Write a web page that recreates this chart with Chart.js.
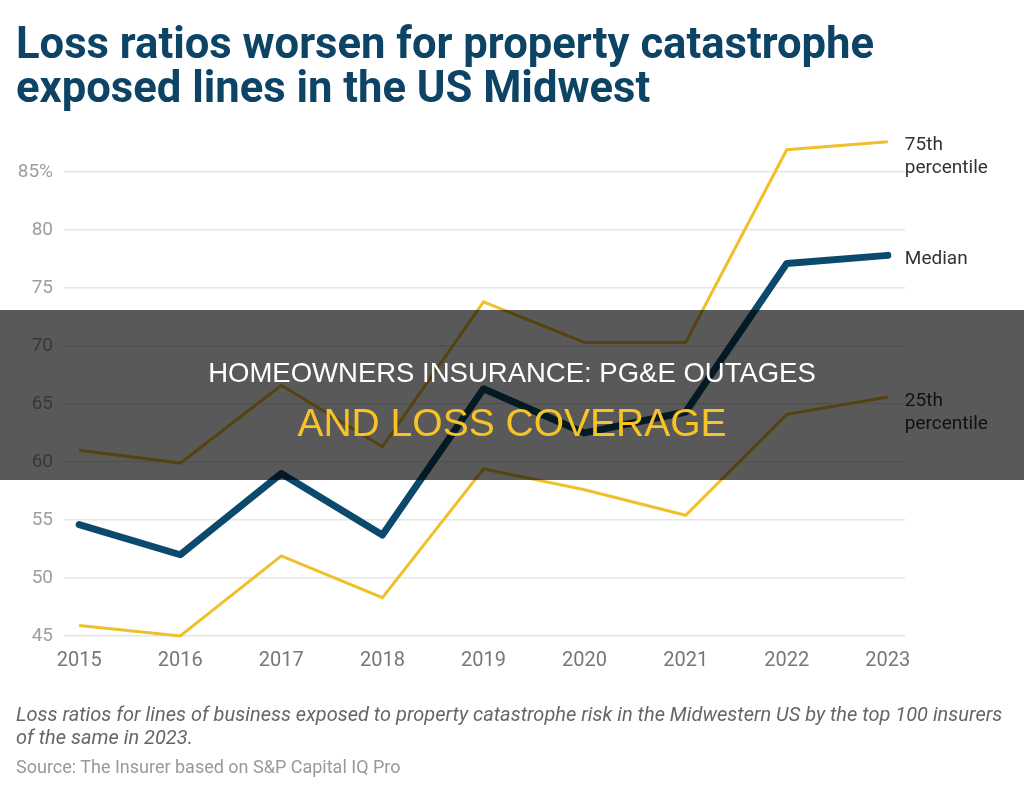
<!DOCTYPE html>
<html>
<head>
<meta charset="utf-8">
<script src="https://cdn.jsdelivr.net/npm/chart.js@4"></script>
<style>
  html, body { margin: 0; padding: 0; background: #fff; }
  body { width: 1024px; height: 795px; position: relative; overflow: hidden; }
  #wrap { position: absolute; left: 0; top: 0; width: 1024px; height: 795px; }
  .title {
    position: absolute; left: 16px; top: 22px; margin: 0;
    font-family: Roboto, sans-serif; font-weight: 700; font-size: 43.6px;
    line-height: 44px; color: #0d4466; white-space: nowrap;
  }
  .caption {
    position: absolute; left: 16px; top: 703px;
    font-family: Roboto, sans-serif; font-style: italic; font-size: 20px;
    line-height: 23px; color: #666; white-space: nowrap;
  }
  .source {
    position: absolute; left: 16px; top: 757px;
    font-family: Roboto, sans-serif; font-size: 18px; line-height: 20px;
    color: #999; white-space: nowrap;
  }
  .band {
    position: absolute; left: 0; top: 310px; width: 1024px; height: 170px;
    background: rgba(0, 0, 0, 0.65); z-index: 5;
  }
  .band div {
    position: absolute; left: 0; width: 1024px; text-align: center;
    font-family: "Liberation Sans", Arial, sans-serif; white-space: nowrap;
  }
  .band .l1 { top: 47px; font-size: 27.5px; line-height: 32px; color: #fff; }
  .band .l2 { top: 90px; font-size: 39px; line-height: 46px; color: #f7c325; }
</style>
</head>
<body>
<div id="wrap"><canvas id="lossChart"></canvas></div>
<h1 class="title">Loss ratios worsen for property catastrophe<br>exposed lines in the US Midwest</h1>
<div class="caption">Loss ratios for lines of business exposed to property catastrophe risk in the Midwestern US by the top 100 insurers<br>of the same in 2023.</div>
<div class="source">Source: The Insurer based on S&amp;P Capital IQ Pro</div>
<div class="band">
  <div class="l1">HOMEOWNERS INSURANCE: PG&amp;E OUTAGES</div>
  <div class="l2">AND LOSS COVERAGE</div>
</div>
<script>
const years = [2015, 2016, 2017, 2018, 2019, 2020, 2021, 2022, 2023];
const median = [54.6, 52.0, 59.0, 53.7, 66.3, 62.5, 64.3, 77.1, 77.8];
const p75 = [61.0, 59.9, 66.6, 61.3, 73.8, 70.3, 70.3, 86.9, 87.6];
const p25 = [45.9, 45.0, 51.9, 48.3, 59.4, 57.6, 55.4, 64.1, 65.6];
const yTicks = [45, 50, 55, 60, 65, 70, 75, 80, 85];
const seriesLabels = [["Median"], ["75th", "percentile"], ["25th", "percentile"]];

const toPoints = (vals) => vals.map((v, i) => ({ x: years[i], y: v }));

// draws the "75th percentile" / "Median" labels next to the last point
const endLabels = {
  id: "endLabels",
  afterDatasetsDraw(chart) {
    const ctx = chart.ctx;
    ctx.save();
    ctx.font = "19px Roboto, sans-serif";
    ctx.fillStyle = "#333";
    ctx.textAlign = "left";
    ctx.textBaseline = "middle";
    chart.data.datasets.forEach((ds, i) => {
      const pts = chart.getDatasetMeta(i).data;
      const last = pts[pts.length - 1];
      seriesLabels[i].forEach((txt, j) => {
        ctx.fillText(txt, last.x + 17, last.y + 4 + j * 23);
      });
    });
    ctx.restore();
  },
};

const canvas = document.getElementById("lossChart");
new Chart(canvas.getContext("2d"), {
  type: "line",
  data: {
    datasets: [
      {
        label: "Median",
        data: toPoints(median),
        borderColor: "#0b4a6c",
        borderWidth: 7,
        borderJoinStyle: "round",
        borderCapStyle: "round",
        pointRadius: 0,
        tension: 0,
        order: 0,
      },
      {
        label: "75th percentile",
        data: toPoints(p75),
        borderColor: "#f0bf2a",
        borderWidth: 3,
        pointRadius: 0,
        tension: 0,
        order: 1,
      },
      {
        label: "25th percentile",
        data: toPoints(p25),
        borderColor: "#f0bf2a",
        borderWidth: 3,
        pointRadius: 0,
        tension: 0,
        order: 1,
      },
    ],
  },
  options: {
    responsive: true,
    maintainAspectRatio: false,
    animation: false,
    clip: false,
    layout: { padding: { left: 0, right: 119, top: 137, bottom: 119 } },
    plugins: { legend: { display: false }, tooltip: { enabled: false } },
    scales: {
      x: {
        type: "linear",
        min: 2014.85,
        max: 2023.17,
        afterBuildTicks: (axis) => {
          axis.ticks = years.map((v) => ({ value: v }));
        },
        afterFit: (axis) => {
          axis.height = 40;
        },
        grid: { display: false },
        border: { display: false },
        ticks: {
          color: "#777",
          font: { family: "Roboto", size: 20 },
          padding: 5,
          maxRotation: 0,
          autoSkip: false,
          callback: (v) => String(v),
        },
      },
      y: {
        min: 45,
        max: 88,
        afterBuildTicks: (axis) => {
          axis.ticks = yTicks.map((v) => ({ value: v }));
        },
        afterFit: (axis) => {
          axis.width = 64;
        },
        grid: { color: "#e6e6e6", lineWidth: 1.5, drawTicks: false },
        border: { display: false },
        ticks: {
          color: "#9e9e9e",
          font: { family: "Roboto", size: 19 },
          padding: 11,
          callback: (v) => (v === 85 ? "85%" : String(v)),
        },
      },
    },
  },
  plugins: [endLabels],
});
</script>
</body>
</html>
